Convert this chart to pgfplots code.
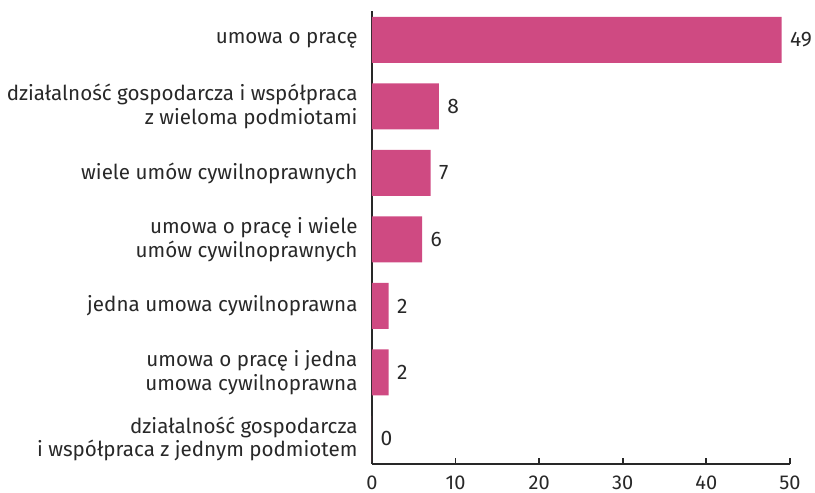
\documentclass[border=0pt]{standalone}
\usepackage{pgfplots}
\pgfplotsset{compat=1.18}
\usepackage{fontspec}
\setmainfont{Fira Sans}
\definecolor{barc}{RGB}{207,74,130}
\definecolor{txt}{RGB}{40,40,40}
\begin{document}
\begin{tikzpicture}
\useasboundingbox (-372pt,-29pt) rectangle (443pt,464pt);
\begin{axis}[
  at={(0,0)}, anchor=south west,
  scale only axis, width=418pt, height=453pt,
  xbar, bar width=46pt,
  xmin=0, xmax=50, ymin=-0.376, ymax=6.436,
  axis x line=bottom, axis y line=left,
  axis line style={-, line width=1.8pt, color=txt},
  xtick={0,10,...,50}, xtick align=inside, major tick length=6pt,
  xtick style={line width=1.8pt, color=txt},
  ytick={0,...,6}, ytick style={draw=none},
  yticklabels={{działalność gospodarcza\\i współpraca z jednym podmiotem},
    {umowa o pracę i jedna\\umowa cywilnoprawna},
    {jedna umowa cywilnoprawna},
    {umowa o pracę i wiele\\umów cywilnoprawnych},
    {wiele umów cywilnoprawnych},
    {działalność gospodarcza i współpraca\\z wieloma podmiotami},
    {umowa o pracę}},
  yticklabel style={align=right, font=\fontsize{20.6}{23.5}\selectfont, text=txt, xshift=-8pt},
  xticklabel style={font=\fontsize{20}{22}\selectfont, text=txt, yshift=-8pt},
  /pgf/number format/assume math mode=true,
  nodes near coords,
  nodes near coords style={font=\fontsize{21}{23}\selectfont, text=txt, xshift=5pt},
  clip=false,
]
\addplot[fill=barc, draw=none] coordinates {(49,6) (8,5) (7,4) (6,3) (2,2) (2,1) (0,0)};
\end{axis}
\end{tikzpicture}
\end{document}
